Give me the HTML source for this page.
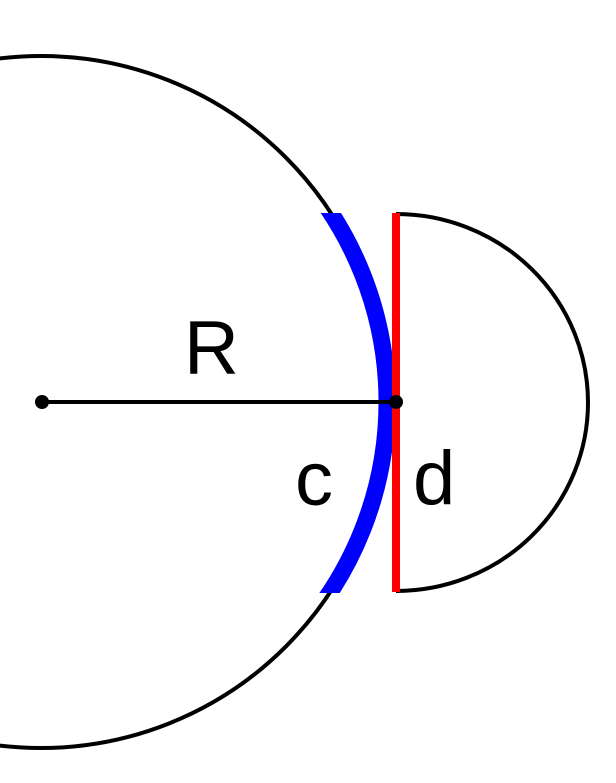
<!DOCTYPE html>
<html><head><meta charset="utf-8"><style>html,body{margin:0;padding:0;background:#fff}svg{display:block}</style></head>
<body>
<svg width="616" height="783" viewBox="0 0 616 783" xmlns="http://www.w3.org/2000/svg">
<defs><clipPath id="cl"><rect x="0" y="213" width="616" height="380"/></clipPath></defs>
<circle cx="41" cy="402" r="346" fill="none" stroke="#000" stroke-width="4"/>
<circle cx="41" cy="402" r="346" fill="none" stroke="#0000ff" stroke-width="17" clip-path="url(#cl)"/>
<path d="M396 214 A192 188.5 0 0 1 396 591" fill="none" stroke="#000" stroke-width="4"/>
<line x1="396" y1="213" x2="396" y2="592" stroke="#ff0000" stroke-width="8"/>
<line x1="42" y1="402" x2="396" y2="402" stroke="#000" stroke-width="4"/>
<circle cx="42" cy="402" r="7" fill="#000"/>
<circle cx="396" cy="402" r="7" fill="#000"/>
<text x="184" y="374" font-family="Liberation Sans, sans-serif" font-size="76" fill="#000">R</text>
<text x="295" y="505" font-family="Liberation Sans, sans-serif" font-size="76" fill="#000">c</text>
<text x="413" y="504" font-family="Liberation Sans, sans-serif" font-size="76" fill="#000">d</text>
</svg>
</body></html>
